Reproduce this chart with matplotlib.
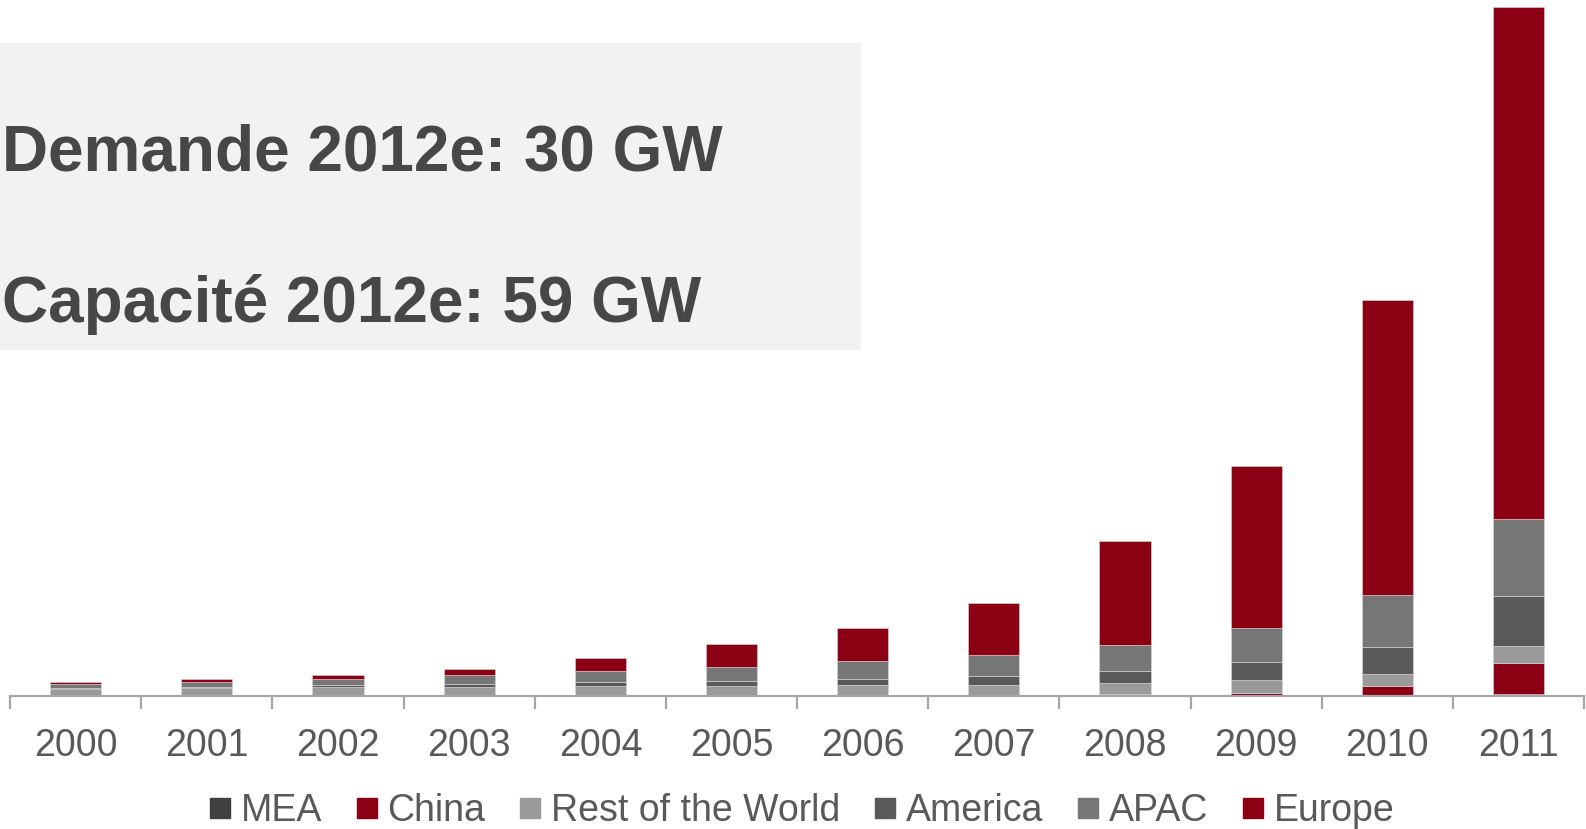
import matplotlib.pyplot as plt
from matplotlib.patches import Rectangle
from matplotlib.lines import Line2D
import numpy as np

plt.rcParams['font.family'] = ['Liberation Sans', 'DejaVu Sans']

years = ['2000', '2001', '2002', '2003', '2004', '2005',
         '2006', '2007', '2008', '2009', '2010', '2011']

# cumulative installed capacity, GW
mea = [0.0, 0.0, 0.0, 0.0, 0.0, 0.0, 0.0, 0.0, 0.05, 0.05, 0.14, 0.24]
china = [0.02, 0.03, 0.04, 0.05, 0.06, 0.07, 0.08, 0.1, 0.14, 0.27, 0.84, 3.1]
rest_world = [0.68, 0.78, 0.84, 0.89, 0.95, 0.93, 1.02, 1.05, 1.16, 1.3, 1.2, 1.7]
america = [0.10, 0.13, 0.20, 0.27, 0.37, 0.47, 0.64, 0.84, 1.2, 1.8, 2.8, 5.0]
apac = [0.40, 0.47, 0.64, 0.91, 1.11, 1.5, 1.8, 2.1, 2.6, 3.4, 5.2, 7.8]
europe = [0.17, 0.30, 0.44, 0.61, 1.35, 2.3, 3.3, 5.3, 10.5, 16.4, 29.8, 51.7]

series = [
    ('MEA', mea, '#404040'),
    ('China', china, '#8B0013'),
    ('Rest of the World', rest_world, '#9A9A9A'),
    ('America', america, '#595959'),
    ('APAC', apac, '#767676'),
    ('Europe', europe, '#8B0013'),
]

fig = plt.figure(figsize=(15.86, 8.295), dpi=100)
ax = fig.add_axes([0.0064, 0.1604, 0.9924, 0.8396])
ax.patch.set_visible(False)

x = np.arange(len(years))
bottom = np.zeros(len(years))
for name, vals, col in series:
    ax.bar(x, vals, width=0.39, bottom=bottom, color=col,
           edgecolor='#D9D9D9', linewidth=0.4)
    bottom += np.array(vals)

ax.set_xlim(-0.5, len(years) - 0.5)
ax.set_ylim(0, 70.3)
ax.set_yticks([])
for s in ['left', 'right', 'top']:
    ax.spines[s].set_visible(False)
ax.spines['bottom'].set_color('#A6A6A6')
ax.spines['bottom'].set_linewidth(1.6)

ax.set_xticks(x)
ax.set_xticklabels(years, fontsize=27, color='#595959')
ax.tick_params(axis='x', which='major', length=0, pad=23)
ax.set_xticks(np.arange(-0.5, len(years)), minor=True)
ax.tick_params(axis='x', which='minor', length=9, width=1.6,
               color='#A6A6A6', direction='out')

# legend
handles = [Line2D([], [], marker='s', linestyle='none', markersize=14,
                  markerfacecolor=col, markeredgecolor=col)
           for name, vals, col in series]
labels = [name for name, vals, col in series]
fig.legend(handles, labels, loc='center', bbox_to_anchor=(0.506, 0.022),
           ncol=6, frameon=False, fontsize=27, handlelength=0.5,
           handletextpad=0.3, columnspacing=0.95, labelcolor='#595959')

# annotation box
fig.add_artist(Rectangle((0, 0.578), 0.543, 0.3697, transform=fig.transFigure,
                         facecolor='#F2F2F2', edgecolor='none'))
fig.text(0.001, 1 - 170 / 829, 'Demande 2012e: 30 GW', fontsize=46,
         fontweight='bold', color='#474747', va='baseline')
fig.text(0.001, 1 - 321.5 / 829, 'Capacité 2012e: 59 GW', fontsize=46,
         fontweight='bold', color='#474747', va='baseline')

fig.savefig('out.png', dpi=100)
